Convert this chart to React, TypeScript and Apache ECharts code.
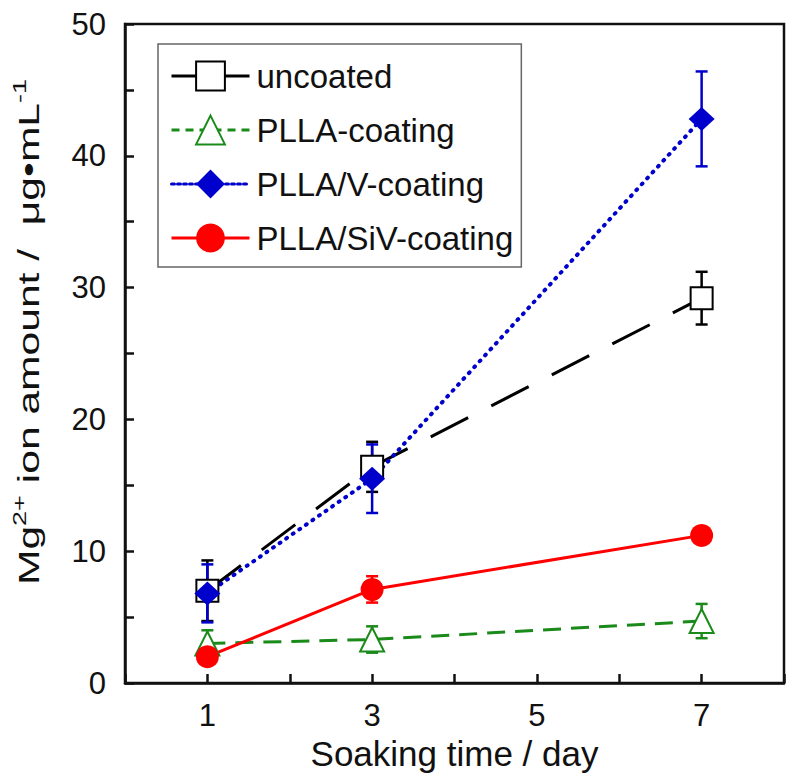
import React, { useEffect, useRef } from 'react';
import * as echarts from 'echarts';

const days = [1, 3, 7];
const uncoated = [7.0, 16.4, 29.2];
const uncoatedErr = [2.3, 1.9, 2.0];
const plla = [3.0, 3.3, 4.7];
const pllaErr = [1.0, 1.0, 1.3];
const pllaV = [6.8, 15.5, 42.8];
const pllaVErr = [2.2, 2.6, 3.6];
const pllaSiV = [2.0, 7.1, 11.2];
const pllaSiVErr = [0.3, 1.0, 0.4];
const xTickLabels = [1, 3, 5, 7];
const yTickLabels = [0, 10, 20, 30, 40, 50];
const seriesNames = ['uncoated', 'PLLA-coating', 'PLLA/V-coating', 'PLLA/SiV-coating'];
const yTitle = '{m|Mg}{s|2+}{m| ion amount /  μg•mL}{s|-1}';
const xTitle = 'Soaking time / day';

const FONT = '"Liberation Sans", Arial, Helvetica, sans-serif';
const INK = '#111';
const C_BLACK = '#000';
const C_GREEN = '#1a8a1a';
const C_BLUE = '#0000cc';
const C_RED = '#ff0000';

function errSeries(name: string, vals: number[], errs: number[], color: string) {
  return {
    type: 'custom',
    name: name + '-err',
    silent: true,
    encode: { x: 0, y: [1, 2] },
    data: days.map((d, i) => [d, vals[i] - errs[i], vals[i] + errs[i]]),
    renderItem: (params: any, api: any) => {
      const x = api.value(0);
      const top = api.coord([x, api.value(2)]);
      const bot = api.coord([x, api.value(1)]);
      const hw = 6;
      const style = { stroke: color, lineWidth: 2.5 };
      return {
        type: 'group',
        children: [
          { type: 'line', shape: { x1: top[0], y1: top[1], x2: bot[0], y2: bot[1] }, style },
          { type: 'line', shape: { x1: top[0] - hw, y1: top[1], x2: top[0] + hw, y2: top[1] }, style },
          { type: 'line', shape: { x1: bot[0] - hw, y1: bot[1], x2: bot[0] + hw, y2: bot[1] }, style },
        ],
      };
    },
  };
}

function lineSeries(name: string, vals: number[], color: string, lineStyle: any, symbol: string, symbolSize: any, borderWidth: number) {
  return {
    type: 'line',
    name,
    data: days.map((d, i) => [d, vals[i]]),
    symbol,
    symbolSize,
    showAllSymbol: true,
    lineStyle: { color, ...lineStyle },
    itemStyle: { color, borderColor: color, borderWidth },
    emphasis: { disabled: true },
  };
}

export default function App() {
  const ref = useRef<HTMLDivElement>(null);
  useEffect(() => {
    document.body.style.margin = '0';
    if (!ref.current) return;
    const chart = echarts.init(ref.current, null, { renderer: 'svg' });
    const option: any = {
      animation: false,
      backgroundColor: '#fff',
      textStyle: { fontFamily: FONT },
      grid: {
        left: 125, right: 8, top: 24, bottom: 94,
        show: true, borderColor: INK, borderWidth: 2.5, backgroundColor: 'transparent',
      },
      legend: {
        data: [
          { name: seriesNames[0], lineStyle: { type: 'solid', width: 3, color: C_BLACK } },
          { name: seriesNames[1], lineStyle: { type: [8, 6], width: 3, color: C_GREEN } },
          { name: seriesNames[2], lineStyle: { type: [3, 3], width: 3, color: C_BLUE } },
          { name: seriesNames[3], lineStyle: { type: 'solid', width: 3, color: C_RED } },
        ],
        orient: 'vertical',
        left: 158,
        top: 44,
        padding: [14, 8, 11, 12],
        borderColor: '#666',
        borderWidth: 1.5,
        itemWidth: 78,
        itemHeight: 36,
        itemGap: 18,
        textStyle: { fontSize: 33, color: INK, fontFamily: FONT, lineHeight: 36, padding: [0, 0, 0, 2] },
        selectedMode: false,
      },
      graphic: [
        {
          type: 'text',
          x: 29,
          y: 332,
          rotation: Math.PI / 2,
          scaleX: 1.42,
          silent: true,
          style: {
            text: yTitle,
            fontSize: 30,
            fontFamily: FONT,
            fill: INK,
            align: 'center',
            verticalAlign: 'middle',
            rich: {
              m: { fontSize: 30, lineHeight: 38, fontFamily: FONT, fill: INK },
              s: { fontSize: 19, lineHeight: 19, verticalAlign: 'top', fontFamily: FONT, fill: INK },
            },
          },
        },
      ],
      xAxis: {
        type: 'value',
        min: 0,
        max: 8,
        interval: 1,
        name: xTitle,
        nameLocation: 'middle',
        nameGap: 53,
        nameTextStyle: { fontSize: 35, color: INK, fontFamily: FONT },
        axisLine: { onZero: false, lineStyle: { color: INK, width: 2.5 } },
        axisTick: { inside: true, length: 9, lineStyle: { color: INK, width: 2.5 } },
        axisLabel: {
          fontSize: 31, color: INK, fontFamily: FONT, margin: 17,
          formatter: (v: number) => (xTickLabels.includes(v) ? String(v) : ''),
        },
        splitLine: { show: false },
      },
      yAxis: {
        type: 'value',
        min: 0,
        max: 50,
        interval: 5,
        axisLine: { onZero: false, lineStyle: { color: INK, width: 2.5 } },
        axisTick: { inside: true, length: 9, lineStyle: { color: INK, width: 2.5 } },
        axisLabel: {
          fontSize: 31, color: INK, fontFamily: FONT, margin: 19,
          formatter: (v: number) => (yTickLabels.includes(v) ? String(v) : ''),
        },
        splitLine: { show: false },
      },
      series: [
        errSeries('uncoated', uncoated, uncoatedErr, C_BLACK),
        lineSeries('uncoated', uncoated, C_BLACK, { width: 3, type: [42, 26] }, 'emptyRect', 22, 2),
        errSeries('PLLA-coating', plla, pllaErr, C_GREEN),
        lineSeries('PLLA-coating', plla, C_GREEN, { width: 3, type: [18, 10] }, 'emptyTriangle', 24, 2.5),
        errSeries('PLLA/V-coating', pllaV, pllaVErr, C_BLUE),
        lineSeries('PLLA/V-coating', pllaV, C_BLUE, { width: 4, type: [1, 7], cap: 'round' }, 'diamond', [26, 24], 0),
        errSeries('PLLA/SiV-coating', pllaSiV, pllaSiVErr, C_RED),
        lineSeries('PLLA/SiV-coating', pllaSiV, C_RED, { width: 3 }, 'circle', 23, 0),
      ],
    };
    chart.setOption(option);
    return () => chart.dispose();
  }, []);
  return <div ref={ref} style={{ width: 792, height: 777 }} />;
}
